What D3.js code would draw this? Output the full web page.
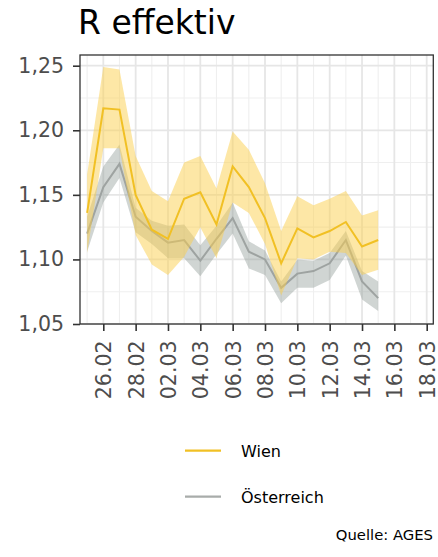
<!DOCTYPE html>
<html>
<head>
<meta charset="utf-8">
<script src="https://cdn.jsdelivr.net/npm/d3@7"></script>
<style>
  html, body { margin: 0; padding: 0; background: #ffffff; }
  svg { display: block; font-family: "DejaVu Sans", sans-serif; }
</style>
</head>
<body>
<div id="chart"></div>
<script>
// ---- data ----
const dates = ["2021-02-25","2021-02-26","2021-02-27","2021-02-28","2021-03-01","2021-03-02","2021-03-03","2021-03-04","2021-03-05","2021-03-06","2021-03-07","2021-03-08","2021-03-09","2021-03-10","2021-03-11","2021-03-12","2021-03-13","2021-03-14","2021-03-15"];
const wien   = [1.136,1.217,1.216,1.150,1.123,1.116,1.147,1.152,1.127,1.172,1.156,1.132,1.097,1.124,1.117,1.122,1.129,1.110,1.115];
const wienHi = [1.166,1.249,1.247,1.180,1.153,1.145,1.175,1.180,1.155,1.199,1.185,1.159,1.122,1.149,1.142,1.147,1.153,1.134,1.138];
const wienLo = [1.105,1.186,1.186,1.119,1.096,1.088,1.102,1.125,1.101,1.144,1.136,1.112,1.072,1.101,1.100,1.106,1.105,1.088,1.092];
const oest   = [1.120,1.156,1.174,1.133,1.122,1.113,1.115,1.099,1.116,1.132,1.106,1.100,1.078,1.089,1.091,1.097,1.115,1.083,1.070];
const oestHi = [1.133,1.172,1.189,1.140,1.130,1.126,1.127,1.111,1.126,1.144,1.114,1.107,1.083,1.100,1.099,1.105,1.122,1.091,1.083];
const oestLo = [1.106,1.144,1.163,1.121,1.112,1.101,1.101,1.087,1.104,1.120,1.093,1.088,1.066,1.078,1.078,1.084,1.103,1.069,1.060];
const xTickDates = ["2021-02-26","2021-02-28","2021-03-02","2021-03-04","2021-03-06","2021-03-08","2021-03-10","2021-03-12","2021-03-14","2021-03-16","2021-03-18"];
const yTicks = [1.05, 1.10, 1.15, 1.20, 1.25];
const yTickLabels = ["1,05","1,10","1,15","1,20","1,25"];
const yMinor = [1.075, 1.125, 1.175, 1.225];
const seriesNames = ["Wien", "Österreich"];
const titleText = "R effektiv";
const sourceText = "Quelle: AGES";

// ---- layout ----
const W = 438, H = 557;
const panel = { left: 80, right: 433.3, top: 55, bottom: 324 };
const parse = d3.timeParse("%Y-%m-%d");
const fmt = d3.timeFormat("%d.%m");

const x = d3.scaleTime()
  .domain([parse("2021-02-26"), parse("2021-03-18")])
  .range([103.3, 426.7]);
const y = d3.scaleLinear().domain([1.05, 1.25]).range([324, 65.7]);

const svg = d3.select("#chart").append("svg").attr("width", W).attr("height", H);

// title
svg.append("text").attr("x", 78).attr("y", 34.3)
  .attr("font-size", 33).attr("fill", "#000").text(titleText);

// grid
const grid = svg.append("g");
const minorX = d3.timeDay.range(parse("2021-02-25"), parse("2021-03-18"), 2);
grid.selectAll("line.mx").data(minorX).join("line")
  .attr("x1", d => x(d)).attr("x2", d => x(d))
  .attr("y1", panel.top).attr("y2", panel.bottom)
  .attr("stroke", "#efefef").attr("stroke-width", 1.1);
grid.selectAll("line.my").data(yMinor).join("line")
  .attr("x1", panel.left).attr("x2", panel.right)
  .attr("y1", d => y(d)).attr("y2", d => y(d))
  .attr("stroke", "#efefef").attr("stroke-width", 1.1);
grid.selectAll("line.Mx").data(xTickDates.map(parse)).join("line")
  .attr("x1", d => x(d)).attr("x2", d => x(d))
  .attr("y1", panel.top).attr("y2", panel.bottom)
  .attr("stroke", "#e6e6e6").attr("stroke-width", 1.8);
grid.selectAll("line.My").data(yTicks).join("line")
  .attr("x1", panel.left).attr("x2", panel.right)
  .attr("y1", d => y(d)).attr("y2", d => y(d))
  .attr("stroke", "#e6e6e6").attr("stroke-width", 1.8);

// series
const dd = dates.map(parse);
function mk(vals, lo, hi) { return dd.map((d, i) => ({ d, v: vals[i], lo: lo[i], hi: hi[i] })); }
const sO = mk(oest, oestLo, oestHi);
const sW = mk(wien, wienLo, wienHi);
const area = d3.area().x(p => x(p.d)).y0(p => y(p.lo)).y1(p => y(p.hi));
const line = d3.line().x(p => x(p.d)).y(p => y(p.v));

svg.append("path").datum(sO).attr("d", area).attr("fill", "#8e9a95").attr("fill-opacity", 0.42);
svg.append("path").datum(sO).attr("d", line).attr("fill", "none").attr("stroke", "#9ea3a1").attr("stroke-width", 2);
svg.append("path").datum(sW).attr("d", area).attr("fill", "#fcd04e").attr("fill-opacity", 0.5);
svg.append("path").datum(sW).attr("d", line).attr("fill", "none").attr("stroke", "#f1c024").attr("stroke-width", 2);

// panel border
svg.append("rect").attr("x", panel.left).attr("y", panel.top)
  .attr("width", panel.right - panel.left).attr("height", panel.bottom - panel.top)
  .attr("fill", "none").attr("stroke", "#333").attr("stroke-width", 1.3);

// axes
const yAxis = d3.axisLeft(y).tickValues(yTicks).tickSize(7).tickPadding(9)
  .tickFormat((d, i) => yTickLabels[i]);
const gy = svg.append("g").attr("transform", `translate(${panel.left},0)`).call(yAxis);
gy.select(".domain").remove();
gy.selectAll(".tick line").attr("stroke", "#333").attr("stroke-width", 1.6);
gy.selectAll(".tick text").attr("font-size", 20.5).attr("fill", "#4d4d4d")
  .attr("font-family", "DejaVu Sans");

const xAxis = d3.axisBottom(x).tickValues(xTickDates.map(parse)).tickSize(7).tickFormat(fmt);
const gx = svg.append("g").attr("transform", `translate(0,${panel.bottom})`).call(xAxis);
gx.select(".domain").remove();
gx.selectAll(".tick line").attr("stroke", "#333").attr("stroke-width", 1.6);
gx.selectAll(".tick text").attr("font-size", 20.5).attr("fill", "#4d4d4d")
  .attr("font-family", "DejaVu Sans")
  .attr("transform", "rotate(-90)")
  .attr("text-anchor", "end")
  .attr("x", -16.5).attr("y", 0).attr("dy", "0.36em");

// legend
const legColors = ["#f1c024", "#a8acaa"];
const legY = [450.7, 496.7];
seriesNames.forEach((n, i) => {
  svg.append("line").attr("x1", 185).attr("x2", 221).attr("y1", legY[i]).attr("y2", legY[i])
    .attr("stroke", legColors[i]).attr("stroke-width", 2.2);
  svg.append("text").attr("x", 241).attr("y", legY[i] + 6.5)
    .attr("font-size", 16).attr("fill", "#000").text(n);
});

// source
svg.append("text").attr("x", 433).attr("y", 540).attr("text-anchor", "end")
  .attr("font-size", 14.8).attr("fill", "#000").text(sourceText);
</script>
</body>
</html>
